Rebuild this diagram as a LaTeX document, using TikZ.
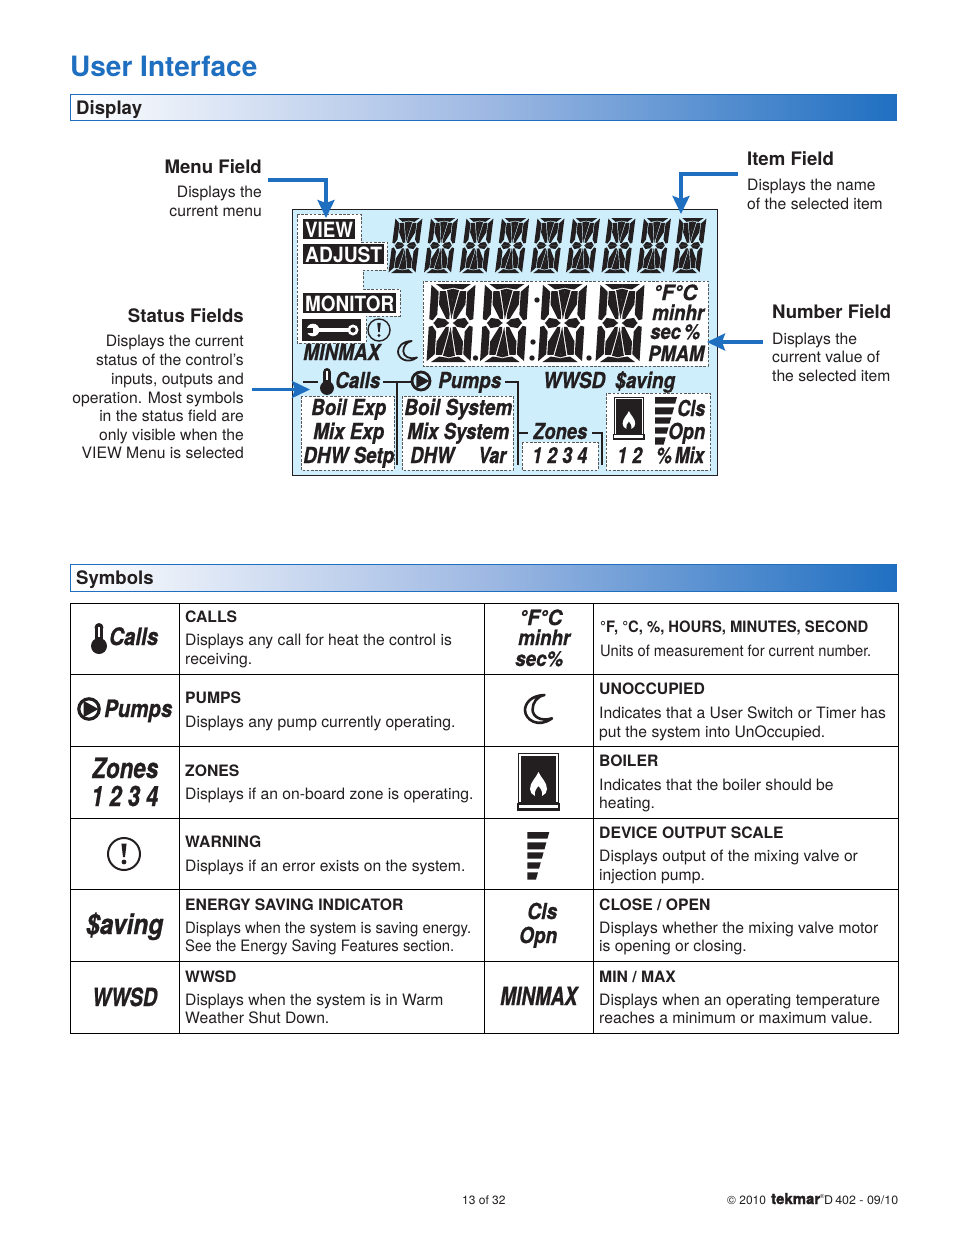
\documentclass[tikz,border=0pt]{standalone}
\usepackage{fontspec}
\usepackage{graphicx}
\setmainfont{TeX Gyre Heros}
\newfontfamily\lcdfam[BoldItalicFeatures={FakeBold=0.9},BoldFeatures={FakeBold=1.6}]{TeX Gyre Heros}
\usetikzlibrary{arrows.meta,shadings}
\definecolor{ink}{HTML}{231F20}
\definecolor{brand}{HTML}{1F6FC1}
\definecolor{lcdbg}{HTML}{CFEEFB}
\definecolor{midbar}{HTML}{9FB9E3}
\newsavebox\fitbox
\newcommand\fitto[2]{\sbox\fitbox{#2}\pgfmathsetmacro\fitr{(#1)/\the\wd\fitbox}\scalebox{\fitr}[1]{\usebox\fitbox}}
% name, x1, x2, baseline, size, text  (bold oblique fitted)
\newcommand\lcd[6]{\node[anchor=base west,inner sep=0pt,text=ink] (#1) at (#2,#4) {\fontsize{#5}{#5}\selectfont\lcdfam\bfseries\itshape\fitto{#3-#2}{#6}};}
\newcommand\invlabel[6]{\node[anchor=base west,inner sep=0pt,text=white] (#1) at (#2,#4) {\fontsize{#5}{#5}\selectfont\bfseries\fitto{#3-#2}{#6}};}
\newcommand\tleft[5][15.7]{\node[anchor=base west,inner sep=0pt,text=ink,font=\fontsize{#1}{#1}\selectfont] (#2) at (#3,#4) {#5};}
\newcommand\tright[5][15.7]{\node[anchor=base east,inner sep=0pt,text=ink,font=\fontsize{#1}{#1}\selectfont] (#2) at (#3,#4) {#5};}
\newcommand\tfit[6][15.7]{\node[anchor=base west,inner sep=0pt,text=ink,font=\fontsize{#1}{#1}\selectfont] (#2) at (#3,#5) {\fitto{#4-#3}{#6}};}
% 16-segment glyph: cx, cy, w, h, slant
\newcommand\segglyph[5]{%
\begin{scope}[shift={(#1,#2)},xslant=#5/#4,xscale=#3,yscale=#4]
\foreach \sx/\sy in {1/1,-1/1,1/-1,-1/-1}{
\begin{scope}[xscale=\sx,yscale=\sy]
\fill[ink] (-0.40,-0.5)--(0.004,-0.5)--(0.004,-0.455)--(-0.05,-0.445)--(-0.22,-0.43)--cycle;
\fill[ink] (-0.5,-0.49)--(-0.325,-0.40)--(-0.325,-0.11)--(-0.42,-0.035)--(-0.5,-0.05)--cycle;
\fill[ink] (-0.30,-0.41)--(-0.16,-0.41)--(-0.045,-0.12)--(-0.045,-0.05)--(-0.11,-0.05)--(-0.30,-0.24)--cycle;
\fill[ink] (-0.135,-0.42)--(0.004,-0.44)--(0.004,-0.05)--(-0.03,-0.14)--cycle;
\fill[ink] (-0.4,0.004)--(-0.31,-0.065)--(-0.14,-0.05)--(-0.04,0.004)--cycle;
\end{scope}}
\end{scope}}
% moon: left, top, size
\newcommand\moonicon[4]{\begin{scope}[shift={(#1,#2)},xscale=#3,yscale=1.08*#3]
\draw[ink,line width=#4,line join=round] (0.72,0) .. controls (0.2,0.02) and (0,0.3) .. (0,0.52) .. controls (0,0.85) and (0.5,1.15) .. (1,0.8) .. controls (0.6,0.92) and (0.28,0.75) .. (0.28,0.5) .. controls (0.28,0.25) and (0.45,0.05) .. (0.72,0) -- cycle;
\end{scope}}
% thermometer: bulb centre, scale
\newcommand\thermo[3]{\begin{scope}[shift={(#1,#2)},scale=#3]
\fill[ink] (0,0) circle (8);
\fill[ink] (-4.4,0) rectangle (4.4,-18.6);
\fill[ink] (0,-18.6) circle (4.4);
\fill[white] (-1.1,-9) rectangle (1.1,-19.5);
\end{scope}}
% pump: centre, radius, line
\newcommand\pump[4]{\begin{scope}[shift={(#1,#2)}]
\draw[ink,line width=#4] (0,0) circle (#3);
\fill[ink,scale=#3] (-0.52,-0.8) -- (0.92,0) -- (-0.52,0.8) -- cycle;
\end{scope}}
% warning: centre, scale, line
\newcommand\warn[4]{\begin{scope}[shift={(#1,#2)},scale=#3]
\draw[ink,line width=#4] (0,0) circle (16);
\fill[ink] (-2.6,-10.5) -- (2.6,-10.5) -- (1,3) -- (-1,3) -- cycle;
\fill[ink] (0,8) circle (2.4);
\end{scope}}
% boiler: left, top, scale
\newcommand\boiler[3]{\begin{scope}[shift={(#1,#2)},scale=#3]
\draw[ink,line width=1.2*#3] (1.5,0.6) rectangle (41.5,50);
\fill[ink] (4,3) rectangle (39,50);
\fill[white] (21.5,19) .. controls (19,25) and (13,29) .. (13,36) .. controls (13,39) and (15,42) .. (18,43) .. controls (17,39) and (19,36) .. (21.5,33) .. controls (24,36) and (26,39) .. (25,43) .. controls (28,42) and (30,39) .. (30,36) .. controls (30,29) and (24,25) .. (21.5,19) -- cycle;
\fill[ink] (0,49.5) rectangle (43,58);
\fill[white] (2,52) rectangle (41,55);
\end{scope}}
% output scale: left, top, scale
\newcommand\outscale[3]{\begin{scope}[shift={(#1,#2)},scale=#3]
\foreach \ya/\yb in {0/6.7,10.3/17.3,20.3/26.7,30.3/36.7,40.3/47.5}{
\pgfmathsetmacro\xa{22-\ya*0.28}\pgfmathsetmacro\xb{22-\yb*0.28}
\fill[ink] (0,\ya) -- (\xa,\ya) -- (\xb,\yb) -- (0,\yb) -- cycle;}
\end{scope}}
\tikzset{
 zone/.style={draw=black!65,fill=white,line width=0.9pt,dash pattern=on 2.6pt off 1.6pt},
 wire/.style={draw=ink,line width=2.4pt},
 pointer/.style={draw=brand,line width=3.6pt,-{Stealth[length=18pt,width=17pt,inset=3pt]}},
 rowline/.style={draw=black,line width=1pt},
 band/.style={draw=brand,line width=1pt,left color=white,right color=brand,middle color=midbar},
}
\begin{document}
\begin{tikzpicture}[x=1pt,y=-1pt]
\useasboundingbox (0,0) rectangle (954,1235);
\fill[white] (0,0) rectangle (954,1235);
% title and bands
\node[anchor=base west,inner sep=0pt,text=brand,font=\fontsize{28}{28}\selectfont\bfseries] (title) at (70,76.5) {User Interface};
\path[band] (70.5,94.5) rectangle (896.5,120.5);
\tleft[18.6]{dispH}{76}{114}{\bfseries Display}
\path[band] (70.5,564.5) rectangle (896.5,591.5);
\tleft[18.6]{symH}{76}{584}{\bfseries Symbols}
% panel
\draw[fill=lcdbg,draw=ink,line width=1.2pt] (292.5,209.5) rectangle (717.5,475.5);
\path[zone] (297,214)--(361,214)--(361,242)--(387,242)--(387,270)--(363,270)--(363,289)--(400,289)--(400,316)--(366,316)--(366,343)--(297,343)--cycle;
\path[zone] (423,281) rectangle (708,366);
\path[zone] (301,396) rectangle (394,470);
\path[zone] (402,396) rectangle (513,470);
\path[zone] (522,442) rectangle (598,470);
\path[zone] (606,393) rectangle (710,470);
% mode labels
\fill[ink] (303,219) rectangle (355,239);
\invlabel{lview}{305}{353}{237}{21}{VIEW}
\fill[ink] (303,244) rectangle (384,264);
\invlabel{ladjust}{305}{382}{262}{21}{ADJUST}
\fill[ink] (303,293) rectangle (396,313);
\invlabel{lmonitor}{305}{394}{311}{21}{MONITOR}
\fill[ink] (302,319) rectangle (361,341);
\fill[white] (315,327.8) rectangle (352,332.2);
\fill[white] (313,330) circle (6.3);
\fill[ink] (305,327.5) rectangle (313,332.5);
\fill[white] (353,330) circle (5.5);
\fill[ink] (353,330) circle (2.6);
\warn{379}{330}{0.69}{1.4}
% segment glyphs, top row
\foreach \i in {0,...,8}{\pgfmathsetmacro\cx{405.5+35.5*\i}\segglyph{\cx}{245.5}{27}{55}{7}}
% large digits
\segglyph{451}{323}{44}{78}{5}
\segglyph{504.5}{323}{44}{78}{5}
\segglyph{562.5}{323}{44}{78}{5}
\segglyph{620}{323}{44}{78}{5}
\fill[ink] (475.5,358) circle (2.7);
\fill[ink] (537,300) circle (2.7);
\fill[ink] (533,342) circle (2.7);
\fill[ink] (532,358) circle (2.7);
\fill[ink] (589,358) circle (2.7);
% units
\lcd{lunitA}{653}{697}{300}{21}{°F°C}
\lcd{lunitB}{652}{704}{320}{21}{minhr}
\lcd{lunitC}{650}{700}{339}{21}{sec\,\%}
\lcd{lpmam}{648}{704}{361}{21}{PMAM}
\lcd{lminmax}{303}{380}{360}{22}{MINMAX}
\moonicon{398}{341}{19}{1.8}
% wires
\draw[wire] (303,382) -- (318,382);
\draw[wire] (383,382) -- (412,382);
\draw[wire] (397,382) -- (397,465);
\draw[wire] (505,382) -- (518,382) -- (518,465);
\draw[wire] (518,433) -- (528,433);
\draw[wire] (592,433) -- (602,433) -- (602,465);
% status row
\thermo{327}{388}{0.87}
\lcd{lcalls}{335}{380}{388}{22}{Calls}
\pump{421}{381}{9}{2.8}
\lcd{lpumps}{438}{501}{388}{22}{Pumps}
\lcd{lwwsd}{543}{605}{388}{22}{WWSD}
\lcd{lsaving}{615}{675}{388}{22}{\$aving}
\lcd{lboilexp}{311}{386}{415}{22}{Boil Exp}
\lcd{lmixexp}{313}{384}{439}{22}{Mix Exp}
\lcd{ldhwsetp}{303}{394}{463}{22}{DHW Setp}
\lcd{lboilsys}{404}{512}{415}{22}{Boil System}
\lcd{lmixsys}{407}{509}{439}{22}{Mix System}
\lcd{ldhw}{410}{454}{463}{22}{DHW}
\lcd{lvar}{478}{506}{463}{22}{Var}
\lcd{lzones}{533}{587}{439}{22}{Zones}
\lcd{lnums}{532}{587}{463}{22}{1 2 3 4}
\lcd{lonetwo}{617}{642}{463}{22}{1 2}
\lcd{lmix}{656}{704}{463}{22}{\%\,Mix}
\lcd{lcls}{677}{705}{416}{22}{Cls}
\lcd{lopn}{668}{705}{439}{22}{Opn}
\boiler{613}{397}{0.74}
\outscale{655}{397}{1}
% callouts
\tright[18.6]{menuH}{262}{173}{\bfseries Menu Field}
\tright{menuA}{262}{197}{Displays the}
\tright{menuB}{262}{216}{current menu}
\tleft[18.6]{itemH}{747}{165}{\bfseries Item Field}
\tleft{itemA}{747}{190}{Displays the name}
\tleft{itemB}{747}{209}{of the selected item}
\tright[18.6]{statH}{244}{322}{\bfseries Status Fields}
\tright{statA}{244}{346}{Displays the current}
\tright{statB}{244}{365}{status of the control’s}
\tright{statC}{244}{384}{inputs, outputs and}
\tright{statD}{244}{403}{operation. Most symbols}
\tright{statE}{244}{421}{in the status field are}
\tright{statF}{244}{440}{only visible when the}
\tright{statG}{244}{458}{VIEW Menu is selected}
\tleft[18.6]{numH}{772}{318}{\bfseries Number Field}
\tleft{numA}{772}{344}{Displays the}
\tleft{numB}{772}{362}{current value of}
\tleft{numC}{772}{381}{the selected item}
\coordinate (menuS) at (268,180);
\coordinate (menuE) at (326,218);
\coordinate (itemS) at (738,174);
\coordinate (itemE) at (681,214);
\coordinate (numS) at (763,342);
\coordinate (numE) at (707,342);
\coordinate (statS) at (252,389.5);
\coordinate (statE) at (310,389.5);
\draw[pointer] (menuS) -| (menuE);
\draw[pointer] (itemS) -| (itemE);
\draw[pointer] (numS) -- (numE);
\draw[pointer] (statS) -- (statE);
% table
\foreach \y in {603.5,674.5,746.5,818.5,889.5,961.5,1033.5}{\draw[rowline] (70,\y) -- (899,\y);}
\foreach \x in {70.5,179.5,484.5,593.5,898.5}{\draw[rowline] (\x,603) -- (\x,1034);}
% left symbols
\thermo{99}{646}{1}
\lcd{sCalls}{109}{158}{645}{24}{Calls}
\pump{89}{709}{10.2}{3.2}
\lcd{sPumps}{104}{172}{717}{24}{Pumps}
\lcd{sZones}{92}{158}{778}{28}{Zones}
\lcd{sNums}{91}{158}{806}{28}{1 2 3 4}
\warn{124}{854}{1}{2}
\lcd{sSaving}{86}{163}{934}{28}{\$aving}
\lcd{sWwsd}{92}{157}{1006}{25}{WWSD}
% right symbols
\lcd{sUnitA}{519}{562}{625}{21}{°F°C}
\lcd{sUnitB}{518}{570}{645}{21}{minhr}
\lcd{sUnitC}{515}{563}{666}{21}{sec\%}
\moonicon{525}{695}{27}{2.6}
\boiler{517}{753}{1}
\outscale{527.3}{832}{1}
\lcd{sCls}{527}{557}{919}{22}{Cls}
\lcd{sOpn}{519}{557}{943}{22}{Opn}
\lcd{sMinmax}{500}{577}{1005}{25}{MINMAX}
% left text
\tleft{a1}{185}{622}{\bfseries CALLS}
\tleft{a2}{185}{645.5}{Displays any call for heat the control is}
\tleft{a3}{185}{664.5}{receiving.}
\tleft{b1}{185}{703}{\bfseries PUMPS}
\tleft{b2}{185}{727}{Displays any pump currently operating.}
\tleft{c1}{185}{776}{\bfseries ZONES}
\tleft{c2}{185}{799}{Displays if an on-board zone is operating.}
\tleft{d1}{185}{847}{\bfseries WARNING}
\tleft{d2}{185}{871}{Displays if an error exists on the system.}
\tleft{e1}{185}{910}{\bfseries ENERGY SAVING INDICATOR}
\tfit{e2}{185}{471}{933}{Displays when the system is saving energy.}
\tfit{e3}{185}{454}{951}{See the Energy Saving Features section.}
\tleft{f1}{185}{982}{\bfseries WWSD}
\tleft{f2}{185}{1005}{Displays when the system is in Warm}
\tleft{f3}{185}{1023}{Weather Shut Down.}
% right text
\tfit{g1}{600}{868}{632}{\bfseries °F, °C, \%, HOURS, MINUTES, SECOND}
\tfit{g2}{600}{871}{656}{Units of measurement for current number.}
\tleft{h1}{599}{694}{\bfseries UNOCCUPIED}
\tleft{h2}{599}{718}{Indicates that a User Switch or Timer has}
\tleft{h3}{599}{737}{put the system into UnOccupied.}
\tleft{i1}{599}{766}{\bfseries BOILER}
\tleft{i2}{599}{790}{Indicates that the boiler should be}
\tleft{i3}{599}{808}{heating.}
\tleft{j1}{599}{838}{\bfseries DEVICE OUTPUT SCALE}
\tleft{j2}{599}{861}{Displays output of the mixing valve or}
\tleft{j3}{599}{880}{injection pump.}
\tleft{k1}{599}{910}{\bfseries CLOSE / OPEN}
\tleft{k2}{599}{933}{Displays whether the mixing valve motor}
\tleft{k3}{599}{951}{is opening or closing.}
\tleft{l1}{599}{982}{\bfseries MIN / MAX}
\tleft{l2}{599}{1005}{Displays when an operating temperature}
\tleft{l3}{599}{1023}{reaches a minimum or maximum value.}
% footer
\tleft[12]{pg}{462}{1204}{13 of 32}
\tleft[12]{copy}{727}{1204}{© 2010}
\node[anchor=base west,inner sep=0pt,text=ink] (logo) at (771,1204) {\fontsize{15}{15}\selectfont\lcdfam\bfseries\fitto{49}{tekmar}};
\tleft[6]{reg}{820}{1198}{®}
\tfit[12]{doc}{824}{898}{1204}{D\,402 - 09/10}
\end{tikzpicture}
\end{document}
